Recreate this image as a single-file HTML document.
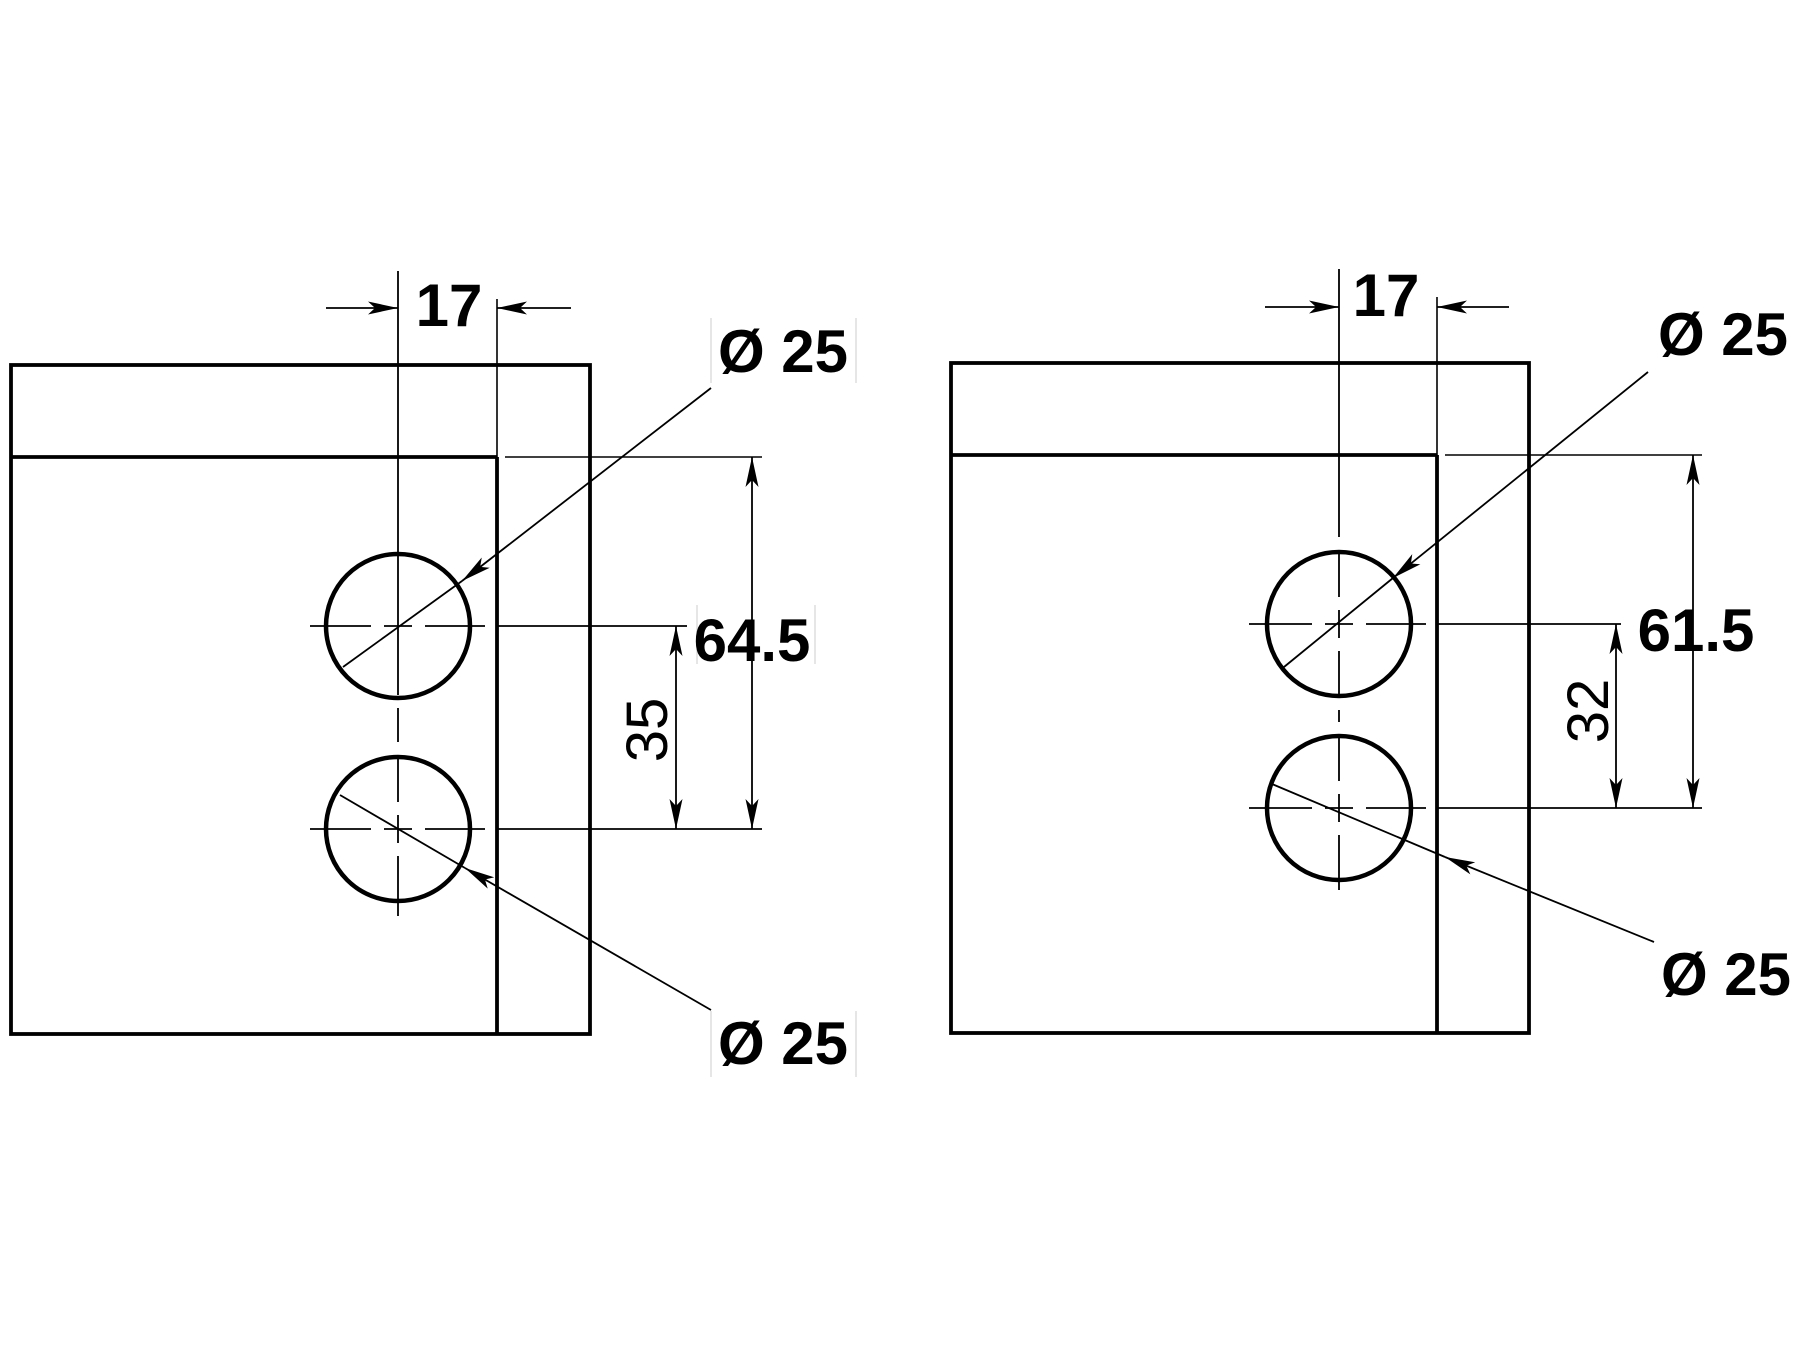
<!DOCTYPE html>
<html><head><meta charset="utf-8"><style>
html,body{margin:0;padding:0;background:#fff;}
svg{display:block}
text{font-family:"Liberation Sans",Arial,sans-serif;fill:#000}
</style></head><body>
<svg width="1800" height="1350" viewBox="0 0 1800 1350" xmlns="http://www.w3.org/2000/svg">
<defs>
<marker id="a" viewBox="0 0 30 13" refX="30" refY="6.5" markerWidth="30" markerHeight="13" markerUnits="userSpaceOnUse" orient="auto"><path d="M0,0 L30,6.5 L0,13 L7,6.5 Z" fill="#000"/></marker>
</defs>
<g fill="none" stroke="#000">
<!-- LEFT -->
<rect x="11" y="365" width="579" height="669" stroke-width="3.8"/>
<line x1="11" y1="457" x2="497" y2="457" stroke-width="3.8"/>
<line x1="497" y1="457" x2="497" y2="1034" stroke-width="3.8"/>
<line x1="497" y1="299" x2="497" y2="457" stroke-width="1.6"/>
<line x1="505" y1="457" x2="762" y2="457" stroke-width="1.6"/>
<circle cx="398" cy="626" r="72" stroke-width="4.5"/>
<circle cx="398" cy="829" r="72" stroke-width="4.5"/>
<g stroke-width="1.8">
<path d="M398 271V695M398 708V742M398 755V802M398 815V843M398 856V916"/>
<path d="M310 626H371M384 626H412M425 626H485M497 626H687"/>
<path d="M310 829H371M384 829H412M425 829H485M497 829H762"/>
<line x1="326" y1="308" x2="398" y2="308" marker-end="url(#a)"/>
<line x1="571" y1="308" x2="497" y2="308" marker-end="url(#a)"/>
<line x1="752" y1="560" x2="752" y2="457" marker-end="url(#a)"/>
<line x1="752" y1="720" x2="752" y2="829" marker-end="url(#a)"/>
<line x1="752" y1="560" x2="752" y2="720"/>
<line x1="676" y1="730" x2="676" y2="626" marker-end="url(#a)"/>
<line x1="676" y1="730" x2="676" y2="829" marker-end="url(#a)"/>
<line x1="711" y1="388" x2="462" y2="581" marker-end="url(#a)"/>
<line x1="462" y1="581" x2="343" y2="667"/>
<line x1="711" y1="1010" x2="465" y2="868" marker-end="url(#a)"/>
<line x1="465" y1="868" x2="340" y2="795"/>
</g>
<!-- RIGHT -->
<rect x="951" y="363" width="578" height="670" stroke-width="3.8"/>
<line x1="951" y1="455" x2="1437" y2="455" stroke-width="3.8"/>
<line x1="1437" y1="455" x2="1437" y2="1033" stroke-width="3.8"/>
<line x1="1437" y1="297" x2="1437" y2="455" stroke-width="1.6"/>
<line x1="1445" y1="455" x2="1702" y2="455" stroke-width="1.6"/>
<circle cx="1339" cy="624" r="72" stroke-width="4.5"/>
<circle cx="1339" cy="808" r="72" stroke-width="4.5"/>
<g stroke-width="1.8">
<path d="M1339 269V537M1339 550V597M1339 610V638M1339 651V698M1339 710V722M1339 734V781M1339 794V822M1339 835V890"/>
<path d="M1249 624H1312M1325 624H1353M1366 624H1426M1437 624H1621"/>
<path d="M1249 808H1312M1325 808H1353M1366 808H1426M1437 808H1702"/>
<line x1="1265" y1="307" x2="1339" y2="307" marker-end="url(#a)"/>
<line x1="1509" y1="307" x2="1437" y2="307" marker-end="url(#a)"/>
<line x1="1693" y1="560" x2="1693" y2="455" marker-end="url(#a)"/>
<line x1="1693" y1="700" x2="1693" y2="808" marker-end="url(#a)"/>
<line x1="1693" y1="560" x2="1693" y2="700"/>
<line x1="1616" y1="715" x2="1616" y2="624" marker-end="url(#a)"/>
<line x1="1616" y1="715" x2="1616" y2="808" marker-end="url(#a)"/>
<line x1="1648" y1="372" x2="1393" y2="578" marker-end="url(#a)"/>
<line x1="1393" y1="578" x2="1284" y2="667"/>
<line x1="1654" y1="942" x2="1445" y2="857" marker-end="url(#a)"/>
<line x1="1445" y1="857" x2="1272" y2="784"/>
</g>
<g stroke="#ccc" stroke-width="1">
<line x1="711" y1="318" x2="711" y2="383"/><line x1="856" y1="318" x2="856" y2="383"/>
<line x1="711" y1="1011" x2="711" y2="1077"/><line x1="856" y1="1011" x2="856" y2="1077"/>
<line x1="697" y1="605" x2="697" y2="664"/><line x1="815" y1="605" x2="815" y2="664"/>
</g>
</g>
<g font-weight="bold" font-size="60">
<text x="449" y="326" text-anchor="middle">17</text>
<text x="783" y="372" text-anchor="middle">Ø 25</text>
<text x="783" y="1064" text-anchor="middle">Ø 25</text>
<text x="752" y="661" text-anchor="middle">64.5</text>
<text x="1386" y="316" text-anchor="middle">17</text>
<text x="1723" y="355" text-anchor="middle">Ø 25</text>
<text x="1726" y="995" text-anchor="middle">Ø 25</text>
<text x="1696" y="651" text-anchor="middle">61.5</text>
</g>
<text x="0" y="0" font-size="58" text-anchor="middle" transform="translate(667,730) rotate(-90)">35</text>
<text x="0" y="0" font-size="58" text-anchor="middle" transform="translate(1608,711) rotate(-90)">32</text>
</svg>
</body></html>
